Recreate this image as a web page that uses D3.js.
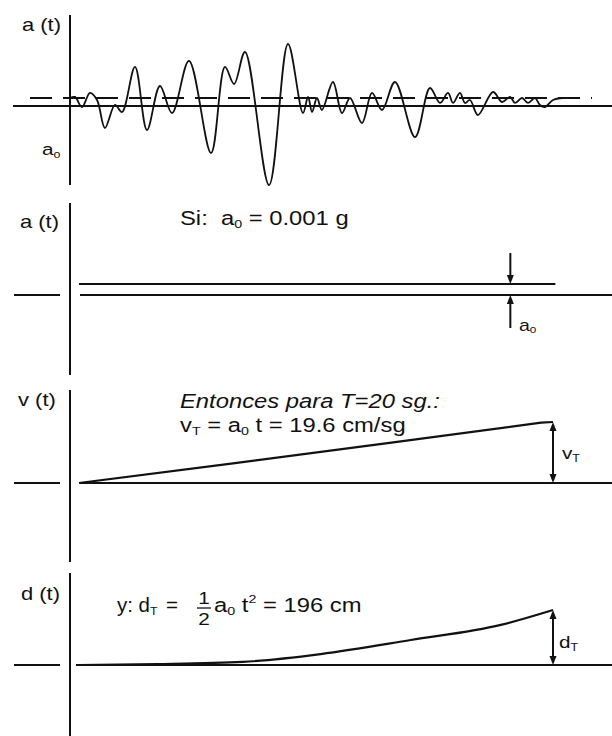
<!DOCTYPE html>
<html>
<head>
<meta charset="utf-8">
<script src="https://cdn.jsdelivr.net/npm/d3@7"></script>
<style>
  html, body { margin: 0; padding: 0; background: #fff; }
  svg { display: block; }
</style>
</head>
<body>
<script>
// ---- Data ---------------------------------------------------------------

// Accelerogram record a(t): time in s, acceleration in multiples of a0
const accelTime = [0.00, 0.38, 0.92, 1.54, 2.08, 2.69, 3.46, 4.00, 5.00, 5.92,
  6.92, 7.85, 9.15, 10.85, 11.92, 12.62, 13.46, 15.31, 16.77, 17.92,
  18.31, 18.62, 19.00, 19.38, 20.23, 20.92, 21.54, 22.46, 23.23, 24.00,
  25.00, 26.54, 27.69, 28.46, 29.08, 29.46, 30.00, 30.38, 30.77, 31.38,
  32.54, 33.23, 33.85, 34.23, 34.77, 35.23, 35.77, 36.15, 36.54, 37.15, 37.92];
const accelValue = [1.00, 1.13, -0.13, 1.63, 0.75, -2.75, 0.13, -0.75, 4.88, -3.00,
  2.50, -0.88, 5.63, -5.88, 4.88, 2.75, 6.75, -9.88, 7.75, -0.88,
  1.13, -0.75, 1.00, -0.50, 3.00, -0.88, 1.00, -2.13, 1.63, -0.50,
  3.00, -3.88, 2.25, 0.38, 1.63, 0.38, 1.63, 0.38, 0.75, -1.13,
  1.75, 0.50, 1.13, 0.38, 1.00, 0.38, 1.00, 0.13, -0.13, 0.75, 1.00];
// Baseline offset of the record (same units)
const accelOffset = 1;

// Constant acceleration error a0 (g)
const a0 = 0.001;
const constTime = [0, 20.1];
const constValue = [a0, a0];
const a0ArrowTime = 18.2;

// Velocity produced by a0 (cm/sg)
const T = 20;
const vT = 19.6;
const velTime = [0, 6.5, 13.1, 19.5, 20];
const velValue = [0, 6.3, 12.9, 19.4, 19.6];

// Displacement produced by a0 (cm)
const dT = 196;
const dispTime = [0, 3.3, 6.9, 10.2, 14.0, 17.8, 20];
const dispValue = [0, 3, 11, 39, 89, 143, 196];

// ---- Layout -------------------------------------------------------------
const W = 612, H = 736;
const INK = "#111";
const FONT = "'Liberation Sans', Arial, Helvetica, sans-serif";
const SX = 1.22;               // horizontal stretch of the lettering

const svg = d3.select("body").append("svg")
  .attr("width", W).attr("height", H)
  .attr("viewBox", `0 0 ${W} ${H}`);

const axisX = 70;
const lineLeft = 14, gapLeft = 60, lineRight = W;

// scales
const xAcc = d3.scaleLinear().domain([0, 40]).range([70, 590]);
const x = d3.scaleLinear().domain([0, T]).range([79, 553]);
const yAcc = d3.scaleLinear().domain([0, 1]).range([106, 98]);
const yA = d3.scaleLinear().domain([0, a0]).range([295, 284]);
const yV = d3.scaleLinear().domain([0, vT]).range([483, 422]);
const yD = d3.scaleLinear().domain([0, dT]).range([665, 610]);

// ---- helpers ------------------------------------------------------------
function hline(x1, x2, y, w = 2, dash = null) {
  const l = svg.append("line")
    .attr("x1", x1).attr("x2", x2).attr("y1", y).attr("y2", y)
    .attr("stroke", INK).attr("stroke-width", w);
  if (dash) l.attr("stroke-dasharray", dash);
  return l;
}
function vline(xp, y1, y2, w = 2) {
  return svg.append("line")
    .attr("x1", xp).attr("x2", xp).attr("y1", y1).attr("y2", y2)
    .attr("stroke", INK).attr("stroke-width", w);
}
// arrow head with tip at (xp, yp); dir = +1 points down, -1 points up
function head(xp, yp, dir) {
  const len = 9, half = 3.5;
  svg.append("path")
    .attr("d", `M${xp},${yp} L${xp - half},${yp - dir * len} L${xp + half},${yp - dir * len} Z`)
    .attr("fill", INK);
}
// text built from parts: {t, sub, sup}
function label(xp, yp, parts, size = 18, opts = {}) {
  const t = svg.append("text")
    .attr("transform", `translate(${xp},${yp}) scale(${opts.sx || SX},1)`)
    .attr("font-family", FONT)
    .attr("font-size", size)
    .attr("fill", INK)
    .attr("text-anchor", opts.anchor || "start")
    .attr("font-style", opts.italic ? "italic" : "normal");
  let shift = 0;
  parts.forEach(p => {
    const s = t.append("tspan").text(p.t);
    let target = 0;
    if (p.sub) { s.attr("font-size", size * 0.6); target = size * 0.15; }
    if (p.sup) { s.attr("font-size", size * 0.6); target = -size * 0.45; }
    if (target !== shift) { s.attr("dy", target - shift); shift = target; }
  });
  return t;
}

// ---- Panel 1: accelerogram with shifted baseline ------------------------
vline(axisX, 15, 185);
hline(13, lineRight, yAcc(0), 1.8);
hline(30, 592, yAcc(accelOffset), 2.2, "22,11");

const accelLine = d3.line()
  .x((d, i) => xAcc(accelTime[i]))
  .y(d => yAcc(d))
  .curve(d3.curveCatmullRom.alpha(0.5));
svg.append("path")
  .attr("d", accelLine(accelValue))
  .attr("fill", "none").attr("stroke", INK).attr("stroke-width", 1.8)
  .attr("stroke-linejoin", "round");

label(22, 31, [{ t: "a (t)" }], 18);
label(42, 155, [{ t: "a" }, { t: "o", sub: true }], 17);

// ---- Panel 2: constant a0 ------------------------------------------------
vline(axisX, 203, 375);
hline(lineLeft, gapLeft, yA(0), 2.2);
hline(80, lineRight, yA(0), 2.2);

const constLine = d3.line().x((d, i) => x(constTime[i])).y(d => yA(d));
svg.append("path").attr("d", constLine(constValue))
  .attr("fill", "none").attr("stroke", INK).attr("stroke-width", 2);

const xa = x(a0ArrowTime);
vline(xa, yA(a0) - 31, yA(a0) - 6, 2);
head(xa, yA(a0), 1);
vline(xa, yA(0) + 6, yA(0) + 33, 2);
head(xa, yA(0), -1);

label(20, 228, [{ t: "a (t)" }], 18);
label(180, 225, [{ t: "Si:\u00a0\u00a0a" }, { t: "0", sub: true }, { t: " = 0.001 g" }], 19.5);
label(519, 331, [{ t: "a" }, { t: "0", sub: true }], 16);

// ---- Panel 3: velocity ---------------------------------------------------
vline(axisX, 390, 562);
hline(lineLeft, gapLeft, yV(0), 2.2);
hline(80, lineRight, yV(0), 2.2);

const velLine = d3.line().x((d, i) => x(velTime[i])).y(d => yV(d));
svg.append("path").attr("d", velLine(velValue))
  .attr("fill", "none").attr("stroke", INK).attr("stroke-width", 2.2)
  .attr("stroke-linejoin", "round");

const xT = x(T);
vline(xT, yV(vT) + 6, yV(0) - 6, 2);
head(xT, yV(vT), -1);
head(xT, yV(0), 1);

label(18, 406, [{ t: "v (t)" }], 18);
label(180, 408, [{ t: "Entonces para T=20 sg.:" }], 19.5, { italic: true });
label(180, 432, [{ t: "v" }, { t: "T", sub: true }, { t: " = a" }, { t: "0", sub: true },
  { t: " t = 19.6 cm/sg" }], 19.5);
label(562, 459, [{ t: "v" }, { t: "T", sub: true }], 17);

// ---- Panel 4: displacement ----------------------------------------------
vline(axisX, 573, H);
hline(lineLeft, gapLeft, yD(0), 2.2);
hline(76, lineRight, yD(0), 2.2);

const dispLine = d3.line().x((d, i) => x(dispTime[i])).y(d => yD(d))
  .curve(d3.curveMonotoneX);
svg.append("path").attr("d", dispLine(dispValue))
  .attr("fill", "none").attr("stroke", INK).attr("stroke-width", 2.2)
  .attr("stroke-linejoin", "round");

vline(xT, yD(dT) + 6, yD(0) - 6, 2);
head(xT, yD(dT), -1);
head(xT, yD(0), 1);

label(21, 600, [{ t: "d (t)" }], 18);
label(117, 612, [{ t: "y: d" }, { t: "T", sub: true }], 19.5, { sx: 1.05 });
label(166, 612, [{ t: "=" }], 19.5, { sx: 1.05 });
label(204, 604, [{ t: "1" }], 17, { anchor: "middle" });
svg.append("line").attr("x1", 197).attr("x2", 211).attr("y1", 608).attr("y2", 608)
  .attr("stroke", INK).attr("stroke-width", 1.3);
label(204, 625, [{ t: "2" }], 17, { anchor: "middle" });
label(214, 612, [{ t: "a" }, { t: "0", sub: true }, { t: " t" }, { t: "2", sup: true },
  { t: " = 196 cm" }], 19.5);
label(559, 648, [{ t: "d" }, { t: "T", sub: true }], 17);
</script>
</body>
</html>
